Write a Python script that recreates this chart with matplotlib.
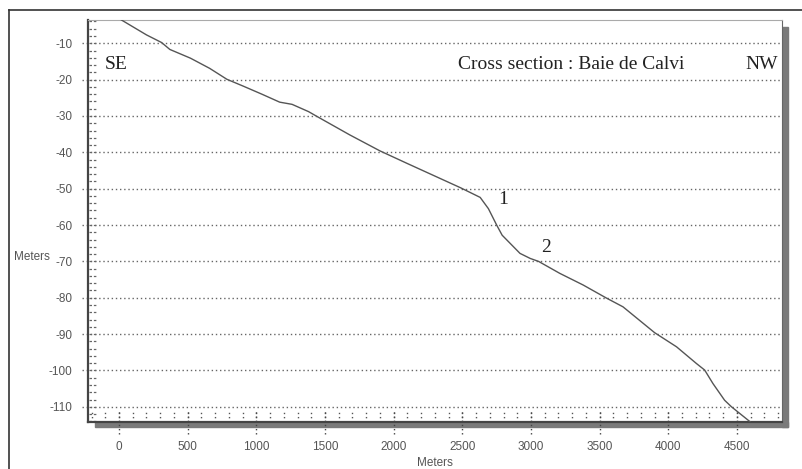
import numpy as np
import matplotlib.pyplot as plt
from matplotlib.lines import Line2D
from matplotlib.patches import Rectangle
import matplotlib.transforms as mtrans

plt.rcParams["axes.unicode_minus"] = False

# profile (distance in m, depth in m)
dist = [0, 80, 200, 310, 370, 520, 660, 785, 905, 1040, 1170, 1260, 1380, 1440,
        1680, 1900, 2095, 2310, 2490, 2630, 2690, 2750, 2790, 2920, 2995, 3055,
        3210, 3380, 3545, 3670, 3900, 4060, 4205, 4265, 4325, 4410, 4460, 4595]
depth = [-3.2, -5.0, -7.7, -9.8, -11.7, -14.1, -16.9, -19.9, -21.8, -24.0, -26.2,
         -26.8, -28.8, -30.1, -35.2, -39.6, -43.0, -46.7, -49.8, -52.4, -55.5,
         -60.0, -62.8, -67.8, -69.2, -70.0, -73.3, -76.5, -80.0, -82.5, -89.6,
         -93.5, -98.1, -99.9, -103.6, -108.2, -110.0, -114.1]

xticks = [0, 500, 1000, 1500, 2000, 2500, 3000, 3500, 4000, 4500]
yticks = [-10, -20, -30, -40, -50, -60, -70, -80, -90, -100, -110]
marks = ["1", "2"]
mark_x = [2796, 3109]
mark_y = [-53.1, -66.3]

sans = "Liberation Sans"
serif = "Liberation Serif"
tcol = "#555555"

fig = plt.figure(figsize=(8.02, 4.69), dpi=100)
W, H = 802, 469
ax = fig.add_axes([88 / W, (H - 421.7) / H, (782 - 88) / W, (421.7 - 20) / H])
ax.set_xlim(-226, 4828)
ax.set_ylim(-114.1, -3.6)

# outer frame (cut off at right and bottom)
fig.add_artist(Line2D([9 / W, 9 / W], [0, (H - 10) / H], color="#333333", lw=1.2))
fig.add_artist(Line2D([9 / W, 1], [(H - 10) / H, (H - 10) / H], color="#333333", lw=1.2))

# drop shadow
fig.add_artist(Rectangle((95 / W, (H - 427) / H), (788 - 95) / W, 5.3 / H,
                         transform=fig.transFigure, color="#7a7a7a", zorder=0))
fig.add_artist(Rectangle((782 / W, (H - 427) / H), 6 / W, (427 - 27) / H,
                         transform=fig.transFigure, color="#7a7a7a", zorder=0))

for s in ["left", "bottom"]:
    ax.spines[s].set_color("#444444")
    ax.spines[s].set_linewidth(1.6)
ax.spines["top"].set_color("#aaaaaa")
ax.spines["right"].set_color("#666666")

# horizontal dotted grid, sticking out a bit on the left
tr_y = mtrans.blended_transform_factory(ax.transAxes, ax.transData)
ax.hlines(yticks, -0.009, 1, transform=tr_y, colors="#666666", lw=1,
          linestyles=(0, (1, 2)), clip_on=False, zorder=1)
# minor y ticks
ymin_t = np.arange(-114, -3, 2)
ax.hlines(ymin_t, 0.002, 0.012, transform=tr_y, colors="#666666", lw=0.9,
          linestyles=(0, (2, 1.5)), zorder=1)

# x ticks: dotted marks at every 100 m, majors continue below the axis
tr_x = mtrans.blended_transform_factory(ax.transData, ax.transAxes)
xmin_t = np.arange(-200, 4801, 100)
ax.vlines(xmin_t, 0, 0.027, transform=tr_x, colors="#555555", lw=1,
          linestyles=(0, (1, 2)), zorder=1)
ax.vlines(xticks, -0.03, 0.027, transform=tr_x, colors="#444444", lw=1,
          linestyles=(0, (1, 2)), clip_on=False, zorder=1)

ax.plot(dist, depth, color="#555555", lw=1, zorder=3)

ax.set_xticks(xticks)
ax.set_yticks(yticks)
ax.tick_params(axis="both", length=0, labelcolor=tcol, labelsize=8.5)
ax.tick_params(axis="x", pad=14)
ax.tick_params(axis="y", pad=11)
for lab in ax.get_xticklabels() + ax.get_yticklabels():
    lab.set_fontfamily(sans)

fig.text(435 / W, (H - 463) / H, "Meters", ha="center", va="center",
         fontsize=8.5, color=tcol, family=sans)
fig.text(14 / W, (H - 257) / H, "Meters", ha="left", va="center",
         fontsize=8.5, color=tcol, family=sans)

ax.text(0.0245, 0.888, "SE", transform=ax.transAxes, ha="left", va="center",
        fontsize=14, family=serif, color="#222222")
ax.text(0.533, 0.888, "Cross section : Baie de Calvi", transform=ax.transAxes,
        ha="left", va="center", fontsize=14, family=serif, color="#222222")
ax.text(0.994, 0.888, "NW", transform=ax.transAxes, ha="right", va="center",
        fontsize=14, family=serif, color="#222222")
for m, mx, my in zip(marks, mark_x, mark_y):
    ax.text(mx, my, m, ha="center", va="center", fontsize=14, family=serif,
            color="#222222")

fig.savefig("out.png", dpi=100)
